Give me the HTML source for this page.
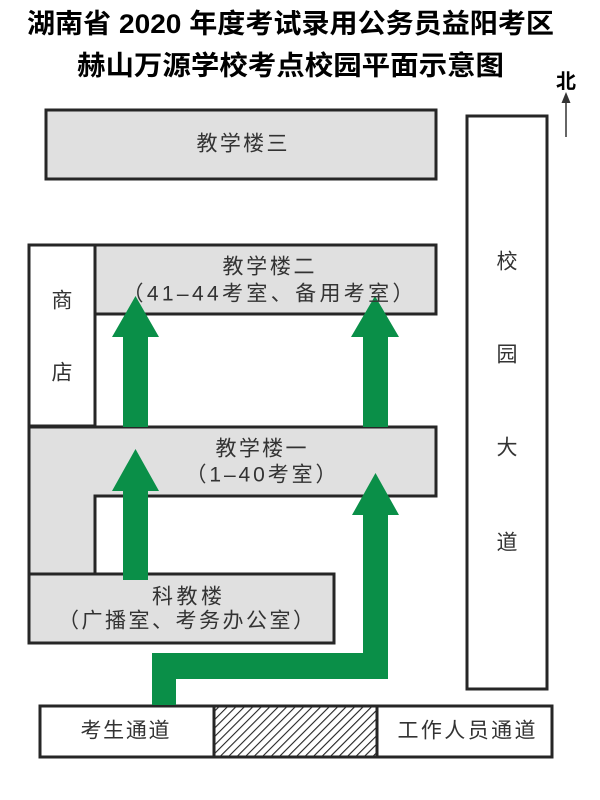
<!DOCTYPE html>
<html><head><meta charset="utf-8"><style>
html,body{margin:0;padding:0;background:#fff;}
svg{display:block;}
text{font-family:"Liberation Sans","Noto Sans CJK SC",sans-serif;}
.t{font-weight:bold;fill:#000;font-size:27px;}
.l{fill:#333;font-size:21px;}
</style></head><body>
<svg width="600" height="800" viewBox="0 0 600 800" xmlns="http://www.w3.org/2000/svg">
<defs>
<pattern id="h" width="6" height="6" patternUnits="userSpaceOnUse" patternTransform="rotate(45)">
<rect width="6" height="6" fill="#fff"/>
<line x1="0" y1="0" x2="0" y2="6" stroke="#222" stroke-width="2.2"/>
</pattern>
</defs>
<!-- title -->
<text class="t" x="290.5" y="24" text-anchor="middle" dominant-baseline="central" textLength="527" lengthAdjust="spacingAndGlyphs">湖南省 2020 年度考试录用公务员益阳考区</text>
<text class="t" x="290.5" y="66" text-anchor="middle" dominant-baseline="central" textLength="427" lengthAdjust="spacingAndGlyphs">赫山万源学校考点校园平面示意图</text>
<!-- north -->
<text x="566" y="82" text-anchor="middle" dominant-baseline="central" style="font-weight:bold;font-size:20px;fill:#000">北</text>
<line x1="566" y1="137" x2="566" y2="100" stroke="#333" stroke-width="1.5"/>
<polygon points="566,92 561.5,103 570.5,103" fill="#333"/>

<g stroke="#262626" stroke-width="3">
<rect x="46" y="110" width="390" height="69" fill="#e0e0e0"/>
<rect x="467" y="116" width="80" height="573" fill="#fff"/>
<rect x="29" y="245" width="66" height="181" fill="#fff"/>
<rect x="95" y="245" width="341" height="69" fill="#e0e0e0"/>
<polygon points="29,427 436,427 436,496 95,496 95,574 29,574" fill="#e0e0e0"/>
<rect x="29" y="574" width="305" height="69" fill="#e0e0e0"/>
<rect x="40" y="706" width="512" height="51" fill="#fff"/>
<rect x="214" y="706" width="163" height="51" fill="url(#h)"/>
</g>

<!-- green arrows -->
<g fill="#0a8f48">
<polygon points="123,427 123,337 112,337 135.5,296 159,337 148,337 148,427"/>
<polygon points="363,427 363,337 351,337 375,296 399,337 388,337 388,427"/>
<polygon points="123,580 123,491 112,491 135.5,449 159,491 148,491 148,580"/>
<polygon points="152,705 152,653 363,653 363,515 352,515 375.5,473 399,515 388,515 388,679 176,679 176,705"/>
</g>

<!-- labels -->
<text class="l" x="242" y="144" text-anchor="middle" dominant-baseline="central" textLength="91" lengthAdjust="spacing">教学楼三</text>
<text class="l" x="62" y="301" text-anchor="middle" dominant-baseline="central">商</text>
<text class="l" x="62" y="373" text-anchor="middle" dominant-baseline="central">店</text>
<text class="l" x="268.5" y="267" text-anchor="middle" dominant-baseline="central" textLength="92" lengthAdjust="spacing">教学楼二</text>
<text class="l" x="268" y="294" text-anchor="middle" dominant-baseline="central" textLength="291" lengthAdjust="spacing">（41–44考室、备用考室）</text>
<text class="l" x="261" y="449" text-anchor="middle" dominant-baseline="central" textLength="91" lengthAdjust="spacing">教学楼一</text>
<text class="l" x="261" y="475" text-anchor="middle" dominant-baseline="central" textLength="151" lengthAdjust="spacing">（1–40考室）</text>
<text class="l" x="187" y="597" text-anchor="middle" dominant-baseline="central" textLength="70" lengthAdjust="spacing">科教楼</text>
<text class="l" x="186" y="621" text-anchor="middle" dominant-baseline="central" textLength="256" lengthAdjust="spacing">（广播室、考务办公室）</text>
<text class="l" x="507" y="262" text-anchor="middle" dominant-baseline="central">校</text>
<text class="l" x="507" y="355" text-anchor="middle" dominant-baseline="central">园</text>
<text class="l" x="507" y="448" text-anchor="middle" dominant-baseline="central">大</text>
<text class="l" x="507" y="543" text-anchor="middle" dominant-baseline="central">道</text>
<text class="l" x="125" y="731" text-anchor="middle" dominant-baseline="central" textLength="89" lengthAdjust="spacing">考生通道</text>
<text class="l" x="466.5" y="731" text-anchor="middle" dominant-baseline="central" textLength="138" lengthAdjust="spacing">工作人员通道</text>
</svg>
</body></html>
